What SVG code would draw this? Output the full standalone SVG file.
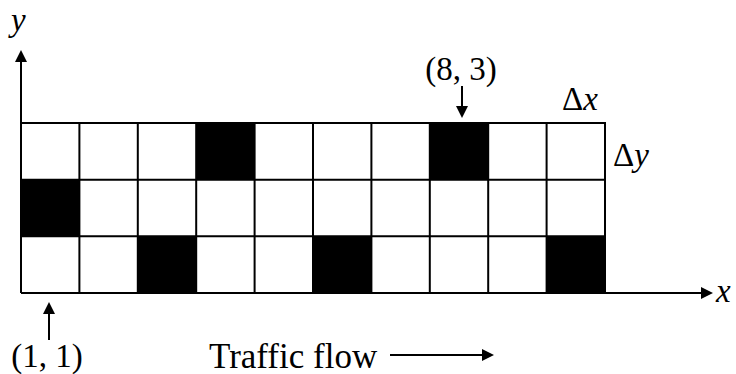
<svg xmlns="http://www.w3.org/2000/svg" width="736" height="374" viewBox="0 0 736 374">
  <!-- labels -->
  <text x="11" y="31" font-family="Liberation Serif" font-size="33" font-style="italic">y</text>
  <text x="716" y="302" font-family="Liberation Serif" font-size="33" font-style="italic">x</text>
  <text x="461" y="80" font-family="Liberation Serif" font-size="33" text-anchor="middle">(8, 3)</text>
  <text x="562" y="110" font-family="Liberation Serif" font-size="33">&#916;<tspan font-style="italic">x</tspan></text>
  <text x="613" y="166" font-family="Liberation Serif" font-size="33">&#916;<tspan font-style="italic">y</tspan></text>
  <text x="47" y="367" font-family="Liberation Serif" font-size="33" text-anchor="middle">(1, 1)</text>
  <text x="209" y="368" font-family="Liberation Serif" font-size="35">Traffic flow</text>

  <!-- cell grid: 10 columns x 3 rows -->
  <g id="grid">
    <g fill="#000">
      <rect x="196.2" y="123" width="58.4" height="56.7"/>
      <rect x="429.8" y="123" width="58.4" height="56.7"/>
      <rect x="21" y="179.7" width="58.4" height="56.7"/>
      <rect x="137.8" y="236.3" width="58.4" height="56.7"/>
      <rect x="313" y="236.3" width="58.4" height="56.7"/>
      <rect x="546.6" y="236.3" width="58.4" height="56.7"/>
    </g>
    <path stroke="#000" stroke-width="2" fill="none" d="M21,123H605V293 M79.4,123V293 M137.8,123V293 M196.2,123V293 M254.6,123V293 M313,123V293 M371.4,123V293 M429.8,123V293 M488.2,123V293 M546.6,123V293 M21,179.7H605 M21,236.3H605"/>
  </g>

  <!-- axes and pointers with filled heads -->
  <g id="connectors">
    <path stroke="#000" stroke-width="2" fill="none" d="M21,293V60 M21,293H703 M462,86V108 M49,340V312 M390,355H484"/>
    <g fill="#000">
      <polygon points="21,50 15,62 27,62"/>
      <polygon points="713,293 701,287 701,299"/>
      <polygon points="462,118 456,106 468,106"/>
      <polygon points="49,302 43,314 55,314"/>
      <polygon points="494,355 482,349 482,361"/>
    </g>
  </g>
</svg>
